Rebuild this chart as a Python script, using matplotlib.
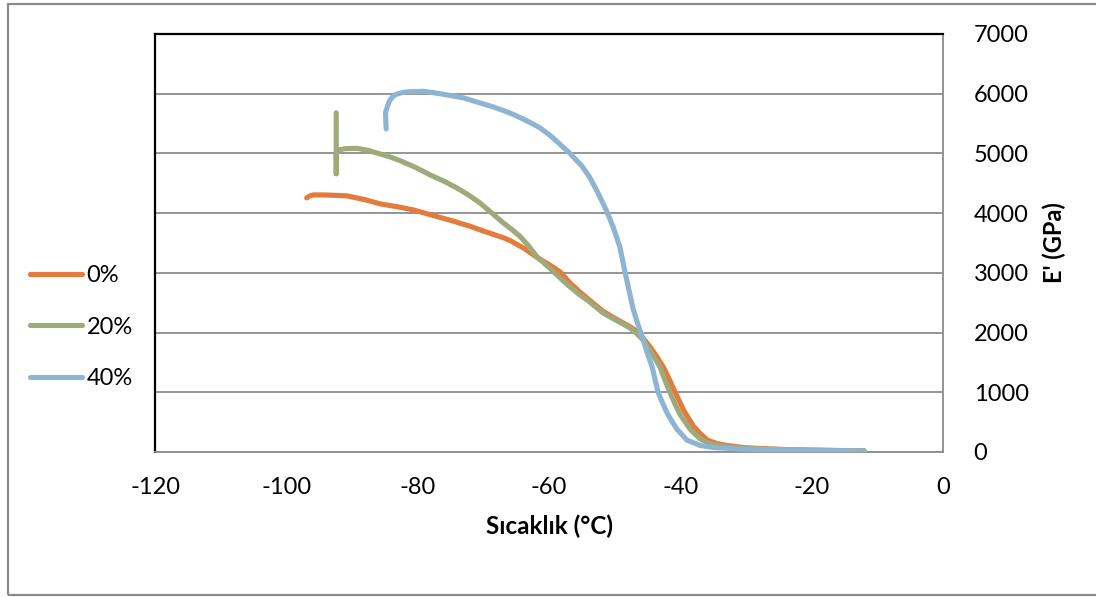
import matplotlib
matplotlib.use("Agg")
import matplotlib.pyplot as plt
from matplotlib.patches import Rectangle
from matplotlib.lines import Line2D

# ---- data ----
labels = ["0%", "20%", "40%"]

t_0 = [-96.9, -96.4, -95.9, -94.5, -93.0, -90.8, -88.0, -85.7, -83.0, -80.7, -78.1,
       -75.0, -72.0, -70.5, -67.0, -65.9, -63.8, -61.7, -60.0, -58.3, -56.8, -55.3,
       -54.0, -52.8, -51.8, -50.6, -49.5, -47.7, -46.6, -45.7, -44.6, -43.6, -42.6,
       -41.7, -40.8, -39.5, -38.0, -36.8, -35.9, -34.5, -33.0, -30.0, -25.0, -20.0, -12.0]
e_0 = [4255, 4290, 4305, 4305, 4300, 4290, 4225, 4155, 4105, 4055, 3975,
       3880, 3780, 3720, 3590, 3540, 3410, 3250, 3140, 3015, 2830, 2680,
       2560, 2450, 2360, 2280, 2210, 2100, 2020, 1910, 1760, 1600, 1425,
       1220, 1005, 700, 430, 290, 200, 145, 110, 70, 45, 30, 20]

t_20 = [-92.4, -92.4, -92.4, -92.0, -91.0, -89.2, -87.5, -86.0, -84.3, -82.7, -80.4,
        -78.1, -76.0, -74.0, -72.2, -70.5, -68.8, -67.0, -65.7, -64.4, -63.1, -61.8,
        -60.0, -58.3, -56.8, -55.4, -54.0, -52.9, -51.8, -50.6, -49.5, -48.6, -47.7,
        -46.7, -45.7, -44.6, -43.9, -43.1, -42.4, -41.6, -40.8, -40.1, -38.5, -37.0,
        -35.5, -33.0, -28.0, -20.0, -12.0]
e_20 = [5680, 4660, 5010, 5060, 5080, 5085, 5050, 5000, 4945, 4880, 4770,
        4640, 4535, 4420, 4300, 4170, 4010, 3840, 3730, 3610, 3450, 3265,
        3090, 2915, 2765, 2640, 2530, 2430, 2330, 2255, 2190, 2135, 2080,
        1990, 1880, 1700, 1570, 1425, 1220, 1005, 800, 640, 380, 220,
        140, 85, 50, 30, 20]

t_40 = [-84.8, -84.9, -84.6, -84.3, -83.8, -83.3, -82.3, -81.2, -79.0, -76.6, -73.0,
        -70.5, -68.8, -67.0, -65.7, -64.4, -63.0, -61.4, -59.8, -58.3, -56.8, -55.0,
        -53.8, -52.5, -51.2, -50.2, -49.2, -48.4, -47.8, -47.2, -46.5, -45.8, -45.1,
        -44.3, -43.4, -42.7, -42.0, -41.2, -40.5, -39.0, -37.0, -35.0, -30.0, -20.0, -12.0]
e_40 = [5410, 5680, 5790, 5880, 5950, 5990, 6020, 6035, 6040, 6000, 5930,
        5845, 5790, 5720, 5665, 5600, 5525, 5430, 5300, 5150, 5000, 4790,
        4600, 4330, 4030, 3760, 3430, 3000, 2700, 2400, 2150, 1925, 1680,
        1425, 1005, 820, 650, 500, 380, 200, 110, 75, 45, 30, 15]

x_ticks = [-120, -100, -80, -60, -40, -20, 0]
y_ticks = [0, 1000, 2000, 3000, 4000, 5000, 6000, 7000]

colors = ["#E47B3C", "#9EAA7A", "#8EB4D3"]

plt.rcParams['font.family'] = ['Lato', 'DejaVu Sans']
plt.rcParams['axes.unicode_minus'] = False

W, H = 1096, 597
fig = plt.figure(figsize=(W / 100, H / 100), dpi=100)

# outer frame
fig.patches.append(Rectangle((8 / W, 1 - 595 / H), 1.2, (595 - 4) / H,
                             transform=fig.transFigure, fill=False,
                             edgecolor="#8a8a8a", linewidth=1.6))

ax = fig.add_axes([155 / W, 1 - 452 / H, (943 - 155) / W, (452 - 34) / H])

series = [(t_0, e_0), (t_20, e_20), (t_40, e_40)]
for (t, e), c, lab in zip(series, colors, labels):
    ax.plot(t, e, color=c, lw=3.7, solid_capstyle="round",
            solid_joinstyle="round", label=lab, zorder=3)

ax.set_xlim(-120, 0)
ax.set_ylim(0, 7000)
ax.set_xticks(x_ticks)
ax.set_yticks(y_ticks)
ax.yaxis.tick_right()
ax.yaxis.set_label_position("right")
ax.tick_params(axis="both", length=0, labelsize=17, colors="black")
ax.tick_params(axis="y", pad=22)
ax.tick_params(axis="x", pad=18)

ax.grid(axis="y", color="#8c8c8c", lw=1.3, zorder=0)
ax.grid(axis="x", visible=False)

ax.spines["left"].set_color("black")
ax.spines["left"].set_linewidth(1.6)
ax.spines["top"].set_color("black")
ax.spines["top"].set_linewidth(1.6)
ax.spines["right"].set_color("#8c8c8c")
ax.spines["right"].set_linewidth(1.3)
ax.spines["bottom"].set_color("#8c8c8c")
ax.spines["bottom"].set_linewidth(1.3)

ax.set_xlabel("Sıcaklık (°C)", fontsize=17.5, fontweight="bold", labelpad=12)
ax.set_ylabel("E' (GPa)", fontsize=17, fontweight="bold", labelpad=10)

handles = [Line2D([0], [0], color=c, lw=3.7, solid_capstyle="round") for c in colors]
fig.legend(handles, labels, loc="center left",
           bbox_to_anchor=(30 / W, 1 - 327 / H), frameon=False,
           fontsize=17, handlelength=2.2, handletextpad=0.2,
           labelspacing=1.3, borderaxespad=0, borderpad=0)

fig.savefig("out.png", dpi=100)
